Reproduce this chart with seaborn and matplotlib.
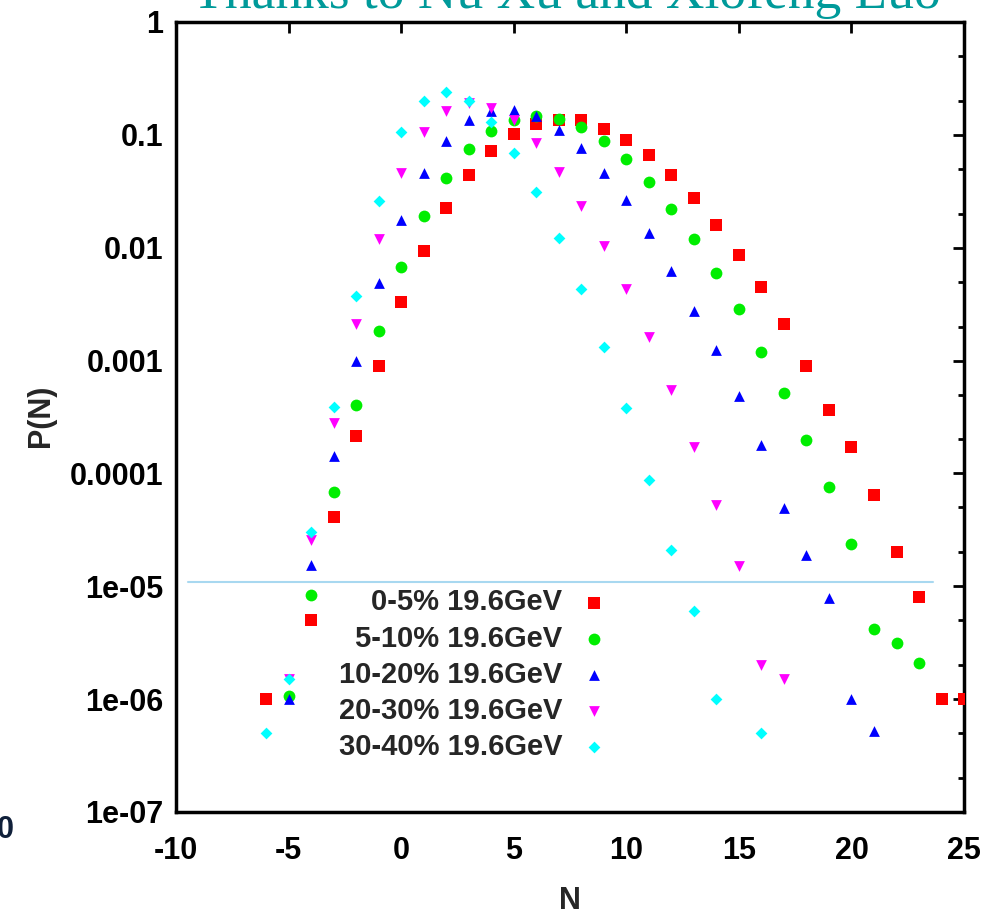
import matplotlib
matplotlib.use('Agg')
import matplotlib.pyplot as plt
import matplotlib.ticker as mticker
import pandas as pd
import seaborn as sns

# multiplicity distributions P(N), 19.6 GeV

labels = ['0-5% 19.6GeV', '5-10% 19.6GeV', '10-20% 19.6GeV',
          '20-30% 19.6GeV', '30-40% 19.6GeV']

n_0_5 = [-6, -4, -3, -2, -1, 0, 1, 2, 3, 4, 5, 6, 7, 8, 9, 10, 11, 12,
         13, 14, 15, 16, 17, 18, 19, 20, 21, 22, 23, 24, 25]
p_0_5 = [1.0e-6, 5.0e-6, 4.1e-5, 2.14e-4, 9.0e-4, 3.33e-3, 9.4e-3, 0.0224,
         0.0441, 0.0724, 0.102, 0.125, 0.135, 0.134, 0.1135, 0.0901, 0.0659,
         0.0441, 0.0274, 0.016, 0.00863, 0.00447, 0.0021, 8.97e-4, 3.68e-4,
         1.73e-4, 6.37e-5, 2.01e-5, 7.96e-6, 1.0e-6, 1.0e-6]

n_5_10 = [-5, -4, -3, -2, -1, 0, 1, 2, 3, 4, 5, 6, 7, 8, 9, 10, 11, 12,
          13, 14, 15, 16, 17, 18, 19, 20, 21, 22, 23]
p_5_10 = [1.06e-6, 8.3e-6, 6.8e-5, 4.05e-4, 1.81e-3, 6.8e-3, 0.0189, 0.0413,
          0.0745, 0.109, 0.1355, 0.147, 0.138, 0.1168, 0.088, 0.0608, 0.038,
          0.0222, 0.0119, 0.00594, 0.00287, 0.0012, 5.18e-4, 1.96e-4, 7.6e-5,
          2.39e-5, 4.14e-6, 3.11e-6, 2.07e-6]

n_10_20 = [-5, -4, -3, -2, -1, 0, 1, 2, 3, 4, 5, 6, 7, 8, 9, 10, 11, 12,
           13, 14, 15, 16, 17, 18, 19, 20, 21]
p_10_20 = [1.0e-6, 1.55e-5, 1.43e-4, 1.0e-3, 4.9e-3, 0.0176, 0.0457, 0.089,
           0.134, 0.163, 0.165, 0.147, 0.11, 0.076, 0.0463, 0.0265, 0.0134,
           0.00627, 0.00277, 0.00123, 4.87e-4, 1.79e-4, 4.93e-5, 1.9e-5,
           7.86e-6, 1.0e-6, 5.25e-7]

n_20_30 = [-5, -4, -3, -2, -1, 0, 1, 2, 3, 4, 5, 6, 7, 8, 9, 10, 11, 12,
           13, 14, 15, 16, 17]
p_20_30 = [1.5e-6, 2.55e-5, 2.8e-4, 2.1e-3, 0.012, 0.0457, 0.105, 0.164,
           0.19, 0.174, 0.134, 0.084, 0.047, 0.0236, 0.0104, 0.0043, 0.00163,
           5.5e-4, 1.7e-4, 5.2e-5, 1.5e-5, 2.0e-6, 1.5e-6]

n_30_40 = [-6, -5, -4, -3, -2, -1, 0, 1, 2, 3, 4, 5, 6, 7, 8, 9, 10, 11,
           12, 13, 14, 16]
p_30_40 = [5.0e-7, 1.5e-6, 3.0e-5, 3.9e-4, 3.7e-3, 0.0258, 0.107, 0.2, 0.238,
           0.2, 0.131, 0.069, 0.031, 0.0123, 0.0043, 0.00133, 3.8e-4, 8.8e-5,
           2.1e-5, 6.0e-6, 1.0e-6, 5.0e-7]

x_ticks = [-10, -5, 0, 5, 10, 15, 20, 25]
y_ticks = [1e-7, 1e-6, 1e-5, 1e-4, 1e-3, 1e-2, 1e-1, 1]
y_tick_labels = ['1e-07', '1e-06', '1e-05', '0.0001', '0.001', '0.01', '0.1', '1']

series = [
    (labels[0], n_0_5, p_0_5, 's', '#ff0000', 84),
    (labels[1], n_5_10, p_5_10, 'o', '#00ee00', 72),
    (labels[2], n_10_20, p_10_20, '^', '#0000ff', 60),
    (labels[3], n_20_30, p_20_30, 'v', '#ff00ff', 60),
    (labels[4], n_30_40, p_30_40, 'D', '#00ffff', 36),
]

sns.set_style('white')
plt.rcParams['font.family'] = ['Liberation Sans', 'DejaVu Sans']

fig = plt.figure(figsize=(9.98, 9.15), dpi=100)
ax = fig.add_axes([0.1764, 0.1126, 0.7896, 0.8634])

for lab, n, p, mk, col, s in series:
    df = pd.DataFrame({'N': n, 'P': p})
    sns.scatterplot(data=df, x='N', y='P', marker=mk, color=col, s=s,
                    linewidth=0, ax=ax, label=lab, zorder=3)

# light line across the plot from the slide
ax.axhline(1.1e-5, xmin=0.015, xmax=0.96, color='#a8d8f0', lw=1.5, zorder=1)

ax.set_yscale('log')
ax.set_xlim(-10, 25)
ax.set_ylim(1e-7, 1)
ax.set_xticks(x_ticks)
ax.set_xticklabels([str(t) for t in x_ticks])
ax.set_yticks(y_ticks)
ax.set_yticklabels(y_tick_labels)
ax.yaxis.set_minor_locator(mticker.LogLocator(base=10, subs=[2, 5], numticks=20))
ax.yaxis.set_minor_formatter(mticker.NullFormatter())
ax.xaxis.set_minor_locator(mticker.NullLocator())

ax.tick_params(which='both', direction='in', top=True, right=True, width=2,
               colors='black')
ax.tick_params(which='major', length=8, labelsize=22)
ax.tick_params(axis='x', which='major', pad=17)
ax.tick_params(axis='y', which='major', pad=9)
ax.tick_params(which='minor', length=4)
for t in ax.get_xticklabels() + ax.get_yticklabels():
    t.set_fontweight('bold')
for sp in ax.spines.values():
    sp.set_linewidth(2.5)
    sp.set_color('black')

ax.set_xlabel('N', fontsize=22, fontweight='bold')
ax.set_ylabel('P(N)', fontsize=22, fontweight='bold')
ax.xaxis.set_label_coords(0.5, -0.094)
ax.yaxis.set_label_coords(-0.152, 0.501)

leg = ax.legend(loc='upper right', bbox_to_anchor=(0.5495, 0.283),
                frameon=False, markerfirst=False, handlelength=1.0,
                handletextpad=0.6, labelspacing=0.28, borderpad=0,
                borderaxespad=0, fontsize=21, scatterpoints=1)
for t in leg.get_texts():
    t.set_fontweight('bold')

fig.text(0.568, 1 - 8 / 915, 'Thanks to Nu Xu and Xiofeng Luo',
         ha='center', va='baseline', family='Liberation Serif',
         fontsize=38.5, color='#009a9a')
fig.text(14 / 998, 1 - 830 / 915, '0', ha='right', va='center', fontsize=22,
         fontweight='bold', color='#10203a')

fig.savefig('out.png', dpi=100)
